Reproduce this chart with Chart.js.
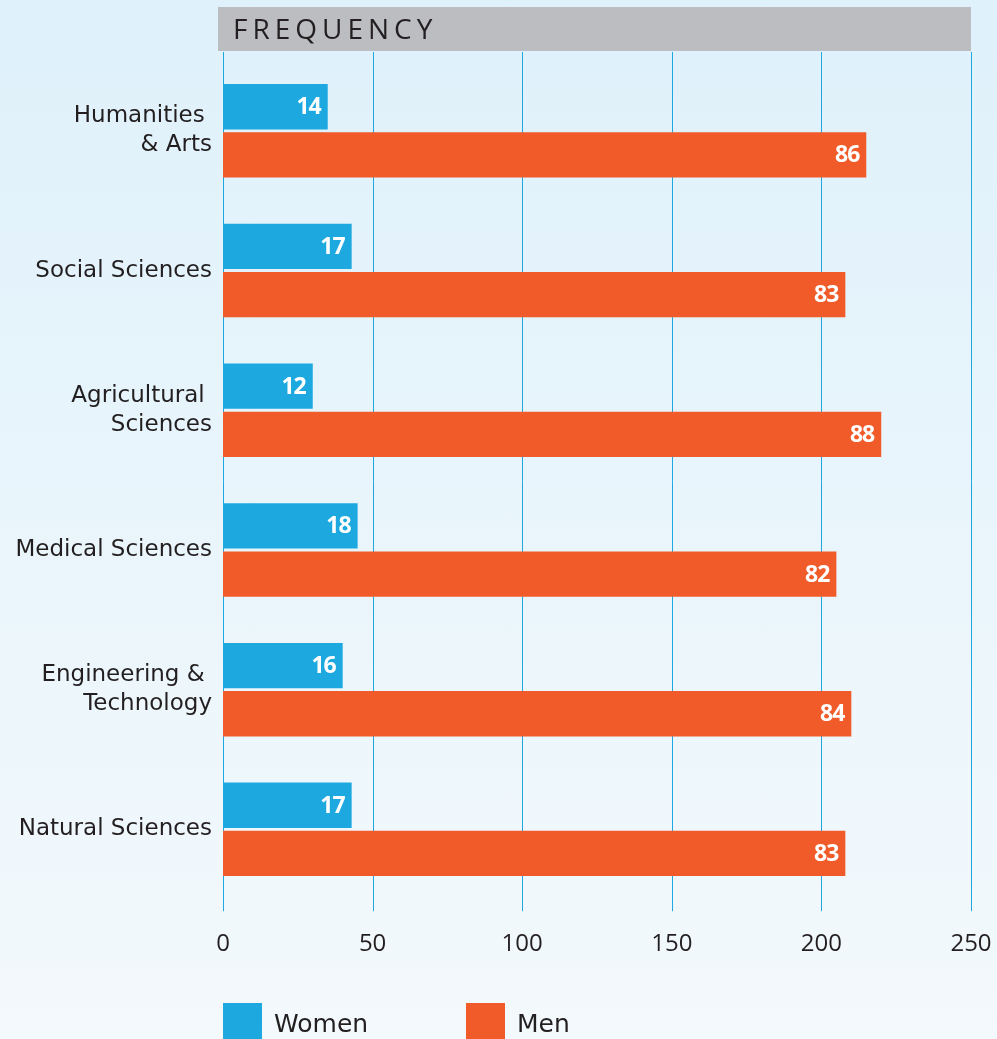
<!DOCTYPE html>
<html lang="en">
<head>
<meta charset="UTF-8">
<title>Frequency by field</title>
<script src="https://cdn.jsdelivr.net/npm/chart.js"></script>
<style>
  html, body { margin: 0; padding: 0; }
  body {
    width: 997px; height: 1039px; overflow: hidden; position: relative;
    background: linear-gradient(to bottom, #dff1fb 0%, #f3f9fc 100%);
    font-family: "DejaVu Sans", sans-serif;
  }
  #chart { position: absolute; left: 0; top: 0; }
  .legend { position: absolute; top: 1003px; left: 223px; display: flex; font-size: 25px; color: #231f20; }
  .legend .item { display: flex; align-items: center; width: 243px; }
  .legend .box { width: 39px; height: 40px; margin-right: 12px; }
</style>
</head>
<body>
<canvas id="chart" width="997" height="1024"></canvas>
<div class="legend">
  <div class="item"><span class="box" style="background:#1da9e0"></span>Women</div>
  <div class="item"><span class="box" style="background:#f15a29"></span>Men</div>
</div>
<script>
// categories (top to bottom)
const fields = [
  ['Humanities ', '& Arts'],
  'Social Sciences',
  ['Agricultural ', 'Sciences'],
  'Medical Sciences',
  ['Engineering & ', 'Technology'],
  'Natural Sciences'
];
// frequencies (bar lengths)
const women = [35, 43, 30, 45, 40, 43];
const men = [215, 208, 220, 205, 210, 208];
// percentages shown inside bars
const womenPct = [14, 17, 12, 18, 16, 17];
const menPct = [86, 83, 88, 82, 84, 83];
const xTicks = [0, 50, 100, 150, 200, 250];

const textColor = '#231f20';
const gridColor = '#1ea7e0';

// header bar + vertical grid lines that run past the chart area
const backdrop = {
  id: 'backdrop',
  beforeDatasetsDraw(chart) {
    const ctx = chart.ctx;
    const area = chart.chartArea;
    const x = chart.scales.x;
    ctx.save();
    ctx.fillStyle = '#bcbdc1';
    ctx.fillRect(area.left - 5, 7, area.right - area.left + 5, 44);
    ctx.fillStyle = textColor;
    ctx.font = '28px "Open Sans"';
    ctx.letterSpacing = '5px';
    ctx.textBaseline = 'middle';
    ctx.fillText('FREQUENCY', area.left + 10, 31);
    ctx.letterSpacing = '0px';
    ctx.strokeStyle = gridColor;
    ctx.lineWidth = 1;
    xTicks.forEach(v => {
      const px = Math.round(x.getPixelForValue(v)) + 0.5;
      ctx.beginPath();
      ctx.moveTo(px, 52);
      ctx.lineTo(px, area.bottom + 12);
      ctx.stroke();
    });
    ctx.restore();
  }
};

// percentage labels inside bar ends
const barLabels = {
  id: 'barLabels',
  afterDatasetsDraw(chart) {
    const ctx = chart.ctx;
    const pcts = [womenPct, menPct];
    ctx.save();
    ctx.fillStyle = '#ffffff';
    ctx.font = 'bold 23px "Open Sans"';
    ctx.letterSpacing = '-1px';
    ctx.textAlign = 'right';
    ctx.textBaseline = 'middle';
    chart.data.datasets.forEach((ds, i) => {
      chart.getDatasetMeta(i).data.forEach((bar, j) => {
        ctx.fillText(pcts[i][j], bar.x - 7, bar.y + 1);
      });
    });
    ctx.restore();
  }
};

new Chart(document.getElementById('chart'), {
  type: 'bar',
  data: {
    labels: fields,
    datasets: [
      { label: 'Women', data: women, backgroundColor: '#1da9e0' },
      { label: 'Men', data: men, backgroundColor: '#f15a29' }
    ]
  },
  options: {
    indexAxis: 'y',
    responsive: false,
    animation: false,
    categoryPercentage: 0.69,
    barPercentage: 0.94,
    layout: { padding: { top: 61, right: 26, bottom: 42, left: 0 } },
    plugins: {
      legend: { display: false },
      tooltip: { enabled: false }
    },
    scales: {
      x: {
        min: 0, max: 250,
        afterBuildTicks(scale) { scale.ticks = xTicks.map(v => ({ value: v })); },
        afterFit(scale) { scale.paddingRight = 0; scale.paddingLeft = 0; },
        grid: { display: false },
        border: { display: false },
        ticks: { color: textColor, padding: 23, font: { family: 'Open Sans', size: 24 }, maxRotation: 0 }
      },
      y: {
        afterFit(scale) { scale.width = 223; },
        grid: { display: false },
        border: { display: false },
        ticks: { color: textColor, padding: 3, font: { family: 'DejaVu Sans', size: 23, lineHeight: 1.26 } }
      }
    }
  },
  plugins: [backdrop, barLabels]
});
</script>
</body>
</html>
